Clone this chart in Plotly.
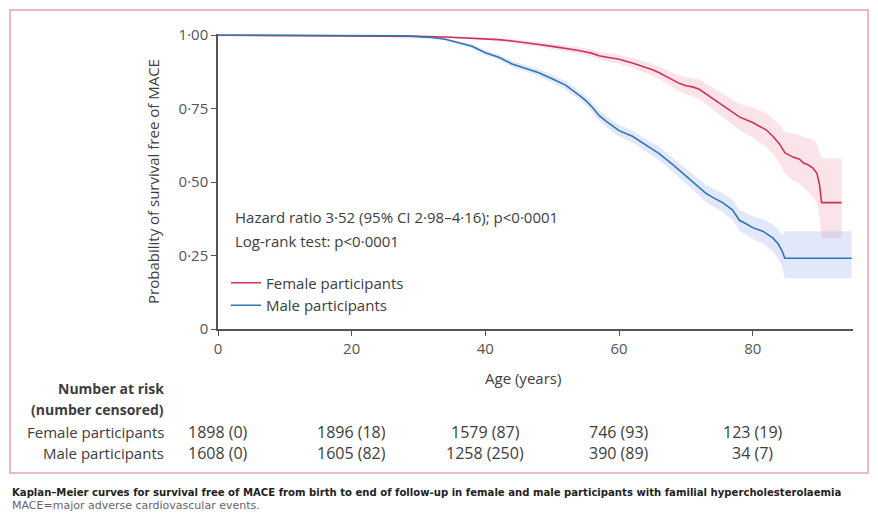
import plotly.graph_objects as go

# ---------------- data ----------------
female_age = [0, 28, 30, 34, 38, 42, 44, 46, 48, 50, 52, 54, 56, 57, 58, 60, 62, 64, 65, 66,
              67, 68, 69, 70, 71, 72, 73, 74, 75, 76, 77, 78, 79, 80, 81, 82, 83, 84, 84.8,
              85.5, 86, 87, 87.6, 88.2, 89, 89.6, 90.0, 90.3, 93.3]
female_surv = [1.0, 0.998, 0.996, 0.994, 0.99, 0.985, 0.98, 0.975, 0.968, 0.962, 0.956, 0.948,
               0.938, 0.93, 0.926, 0.918, 0.905, 0.89, 0.882, 0.872, 0.86, 0.848, 0.836, 0.828,
               0.824, 0.816, 0.80, 0.785, 0.768, 0.752, 0.735, 0.722, 0.712, 0.703, 0.69, 0.678,
               0.656, 0.63, 0.60, 0.59, 0.585, 0.578, 0.565, 0.56, 0.548, 0.53, 0.49, 0.43, 0.43]
female_lower = [1.0, 0.997, 0.994, 0.991, 0.986, 0.980, 0.974, 0.968, 0.960, 0.953, 0.946, 0.937,
                0.926, 0.917, 0.912, 0.903, 0.888, 0.871, 0.862, 0.851, 0.837, 0.823, 0.809, 0.799,
                0.793, 0.783, 0.765, 0.748, 0.729, 0.711, 0.692, 0.677, 0.664, 0.652, 0.636, 0.621,
                0.595, 0.565, 0.530, 0.515, 0.505, 0.495, 0.478, 0.470, 0.452, 0.428, 0.380, 0.31, 0.31]
female_upper = [1.0, 0.999, 0.998, 0.997, 0.994, 0.990, 0.986, 0.982, 0.976, 0.971, 0.966, 0.959,
                0.950, 0.943, 0.940, 0.933, 0.922, 0.909, 0.902, 0.893, 0.883, 0.873, 0.863, 0.857,
                0.855, 0.849, 0.835, 0.822, 0.807, 0.793, 0.778, 0.767, 0.760, 0.754, 0.744, 0.735,
                0.717, 0.695, 0.670, 0.665, 0.665, 0.661, 0.652, 0.650, 0.644, 0.632, 0.600, 0.58, 0.58]

male_age = [0, 28, 30, 32, 34, 36, 38, 40, 42, 44, 46, 48, 50, 52, 54, 55, 56, 57, 58, 59, 60,
            62, 64, 66, 68, 70, 72, 73, 74, 75.5, 77, 78, 79, 80, 81.5, 82, 83, 83.8, 84.4,
            84.8, 94.8]
male_surv = [1.0, 0.998, 0.995, 0.992, 0.986, 0.975, 0.962, 0.94, 0.925, 0.902, 0.888, 0.872,
             0.852, 0.83, 0.796, 0.778, 0.755, 0.727, 0.708, 0.69, 0.675, 0.656, 0.625, 0.597,
             0.56, 0.52, 0.48, 0.462, 0.448, 0.43, 0.405, 0.37, 0.358, 0.345, 0.333, 0.325,
             0.31, 0.29, 0.265, 0.241, 0.241]
male_lower = [1.0, 0.997, 0.993, 0.989, 0.982, 0.970, 0.955, 0.932, 0.916, 0.892, 0.877, 0.860,
              0.839, 0.816, 0.781, 0.762, 0.739, 0.710, 0.690, 0.671, 0.656, 0.636, 0.604, 0.574,
              0.536, 0.494, 0.452, 0.433, 0.418, 0.398, 0.371, 0.334, 0.321, 0.306, 0.292, 0.282,
              0.264, 0.240, 0.212, 0.173, 0.173]
male_upper = [1.0, 0.999, 0.997, 0.995, 0.990, 0.980, 0.969, 0.948, 0.934, 0.912, 0.899, 0.884,
              0.865, 0.844, 0.811, 0.794, 0.771, 0.744, 0.726, 0.709, 0.694, 0.676, 0.646, 0.620,
              0.584, 0.546, 0.508, 0.491, 0.478, 0.462, 0.439, 0.406, 0.395, 0.384, 0.374, 0.368,
              0.356, 0.340, 0.318, 0.333, 0.333]

x_ticks = [0, 20, 40, 60, 80]
y_ticks = [0, 0.25, 0.5, 0.75, 1.0]
y_tick_labels = ["0", "0·25", "0·50", "0·75", "1·00"]
female_risk = ["1898 (0)", "1896 (18)", "1579 (87)", "746 (93)", "123 (19)"]
male_risk = ["1608 (0)", "1605 (82)", "1258 (250)", "390 (89)", "34 (7)"]

FEMALE_C = "#cf335a"
MALE_C = "#2d77b2"
TXT = "#3d3d3d"
FONT = "Open Sans"

fig = go.Figure()

def add_band(age, lo, hi, band, group):
    fig.add_trace(go.Scatter(x=age, y=hi, mode="lines", line=dict(width=0),
                             hoverinfo="skip", showlegend=False, legendgroup=group))
    fig.add_trace(go.Scatter(x=age, y=lo, mode="lines", line=dict(width=0),
                             fill="tonexty", fillcolor=band, hoverinfo="skip",
                             showlegend=False, legendgroup=group))

add_band(female_age, female_lower, female_upper, "rgba(232,120,145,0.20)", "f")
add_band(male_age, male_lower, male_upper, "rgba(110,140,225,0.20)", "m")

fig.add_trace(go.Scatter(x=female_age, y=female_surv, mode="lines",
                         line=dict(color=FEMALE_C, width=1.6),
                         name="Female participants", legendgroup="f"))
fig.add_trace(go.Scatter(x=male_age, y=male_surv, mode="lines",
                         line=dict(color=MALE_C, width=1.6),
                         name="Male participants", legendgroup="m"))

# ---------- layout (page has an 8px body margin; coordinates below are screen pixels) ----------
OFF = 8
W, H = 878 - OFF, 518 - OFF
PLOT_L, PLOT_R, PLOT_T, PLOT_B = 218, 853, 34, 329
PW, PH = PLOT_R - PLOT_L, PLOT_B - PLOT_T
L, T = PLOT_L - OFF, PLOT_T - OFF
R, B = 878 - PLOT_R, 518 - PLOT_B

def px(xpix):
    return (xpix - PLOT_L) / PW

def py(ypix):
    return (PLOT_B - ypix) / PH

def note(text, x, y, xref="paper", xanchor="left", size=15, color=TXT, family=FONT):
    return dict(text=text, x=x, y=y, xref=xref, yref="paper", xanchor=xanchor,
                yanchor="middle", showarrow=False,
                font=dict(size=size, color=color, family=family))

ann = [
    note("Hazard ratio 3·52 (95% CI 2·98–4·16); p<0·0001", px(233), py(217)),
    note("Log-rank test: p<0·0001", px(233), py(241)),
    note("Age (years)", 45.6, py(378), xref="x", xanchor="center"),
    note("<b>Number at risk</b>", px(166), py(388), xanchor="right", size=14),
    note("<b>(number censored)</b>", px(166), py(410), xanchor="right", size=14),
    note("Female participants", px(166), py(432), xanchor="right"),
    note("Male participants", px(166), py(453), xanchor="right"),
]
for xv, f, m in zip(x_ticks, female_risk, male_risk):
    ann.append(note(f, xv, py(432), xref="x", xanchor="center", size=16))
    ann.append(note(m, xv, py(453), xref="x", xanchor="center", size=16))
ann.append(note("<b>Kaplan–Meier curves for survival free of MACE from birth to end of follow-up in female and male participants with familial hypercholesterolaemia</b>",
                px(10), py(492), size=10.1, color="#222222", family="DejaVu Sans"))
ann.append(note("MACE=major adverse cardiovascular events.",
                px(10), py(505), size=11, color="#666666", family="DejaVu Sans"))

fig.update_layout(
    width=W, height=H,
    margin=dict(l=L, r=R, t=T, b=B, pad=0),
    paper_bgcolor="white", plot_bgcolor="white",
    font=dict(family=FONT, size=15, color=TXT),
    showlegend=True,
    legend=dict(x=px(226), y=py(294), xanchor="left", yanchor="middle",
                bgcolor="rgba(0,0,0,0)", font=dict(size=15, color=TXT, family=FONT),
                tracegroupgap=0, itemwidth=30),
    xaxis=dict(range=[0, 95], tickvals=x_ticks, showline=True, linecolor="#555555",
               linewidth=1.5, ticks="outside", ticklen=5, tickcolor="#555555", showgrid=False,
               zeroline=False, tickfont=dict(size=15, color="#555555", family=FONT)),
    yaxis=dict(range=[0, 1.004], tickvals=y_ticks, ticktext=y_tick_labels, showline=True,
               linecolor="#555555", linewidth=1.5, ticks="outside", ticklen=5,
               tickcolor="#555555", showgrid=False, zeroline=False,
               tickfont=dict(size=15, color="#555555", family=FONT),
               title=dict(text="Probability of survival free of MACE", standoff=15,
                          font=dict(size=15, color=TXT, family=FONT))),
    annotations=ann,
    shapes=[dict(type="rect", xref="paper", yref="paper", x0=px(10), x1=px(868),
                 y0=py(473), y1=py(10), line=dict(color="#e8a2b4", width=1.5),
                 fillcolor="rgba(0,0,0,0)", layer="below")],
)

fig.write_html("out.html")
